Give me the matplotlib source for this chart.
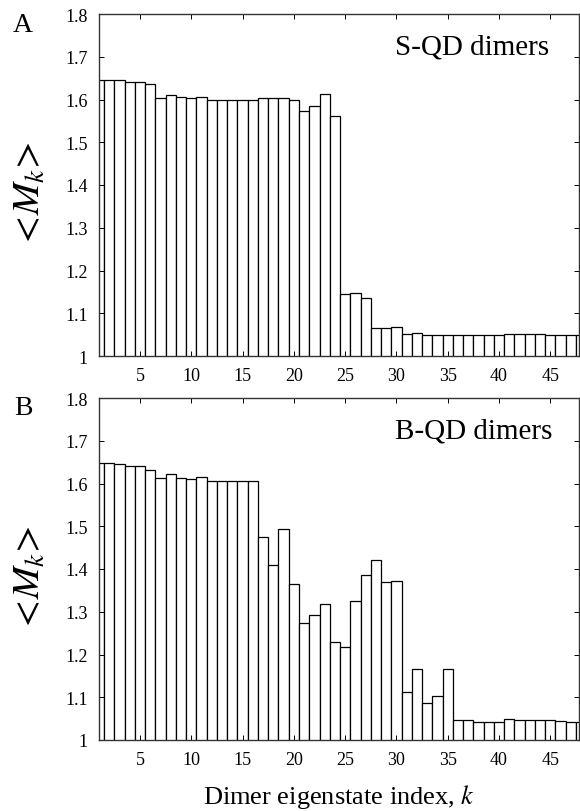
import matplotlib
matplotlib.use("Agg")
import matplotlib.pyplot as plt
import numpy as np

plt.rcParams['font.family'] = ['Liberation Serif', 'DejaVu Serif']
plt.rcParams['mathtext.fontset'] = 'stix'

k = np.arange(1, 49)

s_qd = [1.646, 1.646, 1.645, 1.641, 1.641, 1.636, 1.604, 1.611, 1.607, 1.604,
        1.607, 1.600, 1.600, 1.600, 1.600, 1.600, 1.604, 1.603, 1.603, 1.598,
        1.572, 1.584, 1.614, 1.561, 1.144, 1.147, 1.135, 1.066, 1.066, 1.069,
        1.051, 1.053, 1.050, 1.050, 1.050, 1.050, 1.050, 1.049, 1.049, 1.049,
        1.052, 1.052, 1.051, 1.051, 1.050, 1.050, 1.049, 1.049]

b_qd = [1.647, 1.647, 1.645, 1.640, 1.640, 1.631, 1.612, 1.622, 1.614, 1.611,
        1.616, 1.605, 1.605, 1.605, 1.605, 1.605, 1.474, 1.409, 1.493, 1.365,
        1.274, 1.293, 1.317, 1.229, 1.217, 1.325, 1.386, 1.422, 1.370, 1.371,
        1.112, 1.167, 1.086, 1.104, 1.167, 1.046, 1.047, 1.043, 1.043, 1.043,
        1.048, 1.047, 1.047, 1.047, 1.046, 1.045, 1.042, 1.042]

xticks = [5, 10, 15, 20, 25, 30, 35, 40, 45]
yticks = [1.0, 1.1, 1.2, 1.3, 1.4, 1.5, 1.6, 1.7, 1.8]
ytick_labels = ['1', '1.1', '1.2', '1.3', '1.4', '1.5', '1.6', '1.7', '1.8']

W, H = 580, 812
fig = plt.figure(figsize=(W / 100, H / 100), dpi=100)

def px_axes(left, top, right, bottom):
    return fig.add_axes([left / W, 1 - bottom / H, (right - left) / W, (bottom - top) / H])

axA = px_axes(99, 15, 578.5, 357)
axB = px_axes(99, 399, 578.5, 741)

for ax, vals, label in [(axA, s_qd, 'S-QD dimers'), (axB, b_qd, 'B-QD dimers')]:
    ax.bar(k, vals, width=1.0, bottom=0, facecolor='white', edgecolor='black', linewidth=0.9)
    ax.set_xlim(1, 47.75)
    ax.set_ylim(1.0, 1.8)
    ax.set_xticks(xticks)
    ax.set_yticks(yticks)
    ax.set_yticklabels(ytick_labels)
    ax.tick_params(direction='in', top=True, right=True, length=3.5, width=0.7,
                   labelsize=13, pad=8, colors='black')
    ax.tick_params(axis='x', pad=8)
    for sp in ax.spines.values():
        sp.set_linewidth(1.0)
        sp.set_color('#333333')
    ax.set_ylabel(r'$<\!M_k\!>$', fontsize=28)
    ax.yaxis.set_label_coords(-0.104, 0.475)
    ax.text(0.617, 0.904, label, transform=ax.transAxes, fontsize=21,
            ha='left', va='center')

axB.set_xlabel(r'Dimer eigenstate index, $k$', fontsize=19, labelpad=10)

fig.text(23 / W, 1 - 25 / H, 'A', fontsize=20, ha='center', va='center')
fig.text(23 / W, 1 - 409 / H, 'B', fontsize=20, ha='center', va='center')

fig.savefig('out.png', dpi=100)
